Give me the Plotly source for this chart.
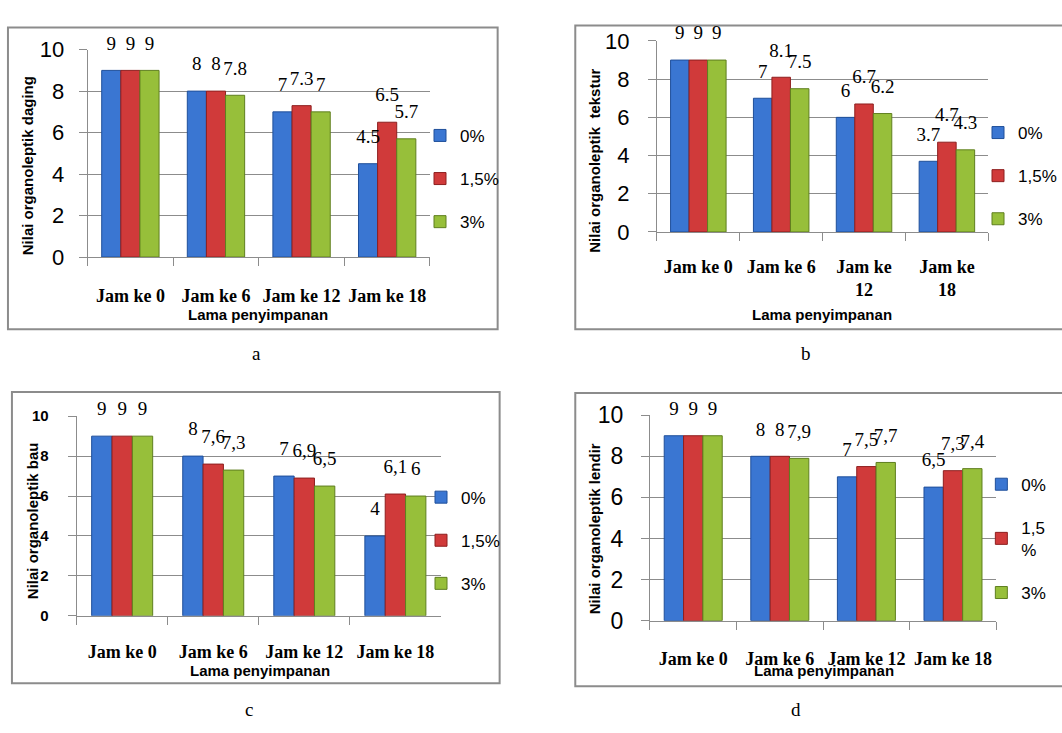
import plotly.graph_objects as go

# ---------------- data ----------------
categories = ["Jam ke 0", "Jam ke 6", "Jam ke 12", "Jam ke 18"]
tick_labels_wrapped = ["Jam ke 0", "Jam ke 6", "Jam ke<br>12", "Jam ke<br>18"]
series_names = ["0%", "1,5%", "3%"]

daging_0 = [9, 8, 7, 4.5]
daging_15 = [9, 8, 7.3, 6.5]
daging_3 = [9, 7.8, 7, 5.7]

tekstur_0 = [9, 7, 6, 3.7]
tekstur_15 = [9, 8.1, 6.7, 4.7]
tekstur_3 = [9, 7.5, 6.2, 4.3]

bau_0 = [9, 8, 7, 4]
bau_15 = [9, 7.6, 6.9, 6.1]
bau_3 = [9, 7.3, 6.5, 6]

lendir_0 = [9, 8, 7, 6.5]
lendir_15 = [9, 8, 7.5, 7.3]
lendir_3 = [9, 7.9, 7.7, 7.4]

y_titles = ["Nilai organoleptik daging", "Nilai organoleptik  tekstur",
            "Nilai organoleptik bau", "Nilai organoleptik lendir"]
x_title = "Lama penyimpanan"
panel_letters = ["a", "b", "c", "d"]

# ---------------- style ----------------
colors = ["#3a76d2", "#d03a3a", "#97bf3a"]
edge = ["#1f4f9a", "#8e1f1f", "#5f7f1f"]
grid = "#8c8c8c"
SANS = "Liberation Sans, Arial, sans-serif"
SERIF = "Liberation Serif, Times New Roman, serif"

W, H = 1062, 733


def px_x(v):
    return v / W


def px_y(v):
    return 1 - v / H


panels = [
    dict(data=[daging_0, daging_15, daging_3], sep=".", ticks=categories,
         xd=(88, 432), yd=(38, 253), box=(8, 15, 500, 328),
         ytick=dict(size=22, family=SANS), ystand=10, leg=(422, 172), lab=(258, 353),
         xstand=22, ytitle=(28, 158), xtitle=(259, 313)),
    dict(data=[tekstur_0, tekstur_15, tekstur_3], sep=".", ticks=tick_labels_wrapped,
         xd=(660, 993), yd=(29, 227), box=(578, 13, 1075, 328),
         ytick=dict(size=22, family=SANS), ystand=14, leg=(983, 169), lab=(810, 353),
         xstand=18, ytitle=(597, 153), xtitle=(826, 313)),
    dict(data=[bau_0, bau_15, bau_3], sep=",", ticks=categories,
         xd=(77, 443), yd=(418, 625), box=(12, 393, 502, 695),
         ytick=dict(size=15, family=SANS, weight="bold"), ystand=16, leg=(423, 547), lab=(250, 722),
         xstand=20, ytitle=(32, 526), xtitle=(261, 682)),
    dict(data=[lendir_0, lendir_15, lendir_3], sep=",", ticks=categories,
         xd=(653, 1001), yd=(417, 630), box=(578, 394, 1075, 698),
         ytick=dict(size=23, family=SANS), ystand=13, leg=(986, 545), lab=(800, 722),
         xstand=22, ytitle=(597, 535), xtitle=(828, 682)),
]


def fmt(v, sep):
    return f"{v:g}".replace(".", sep)


fig = go.Figure()
shapes = []
annotations = []
layout = dict(width=W, height=H, margin=dict(l=0, r=0, t=0, b=0),
              paper_bgcolor="white", plot_bgcolor="white",
              barmode="group", bargap=0.33, bargroupgap=0,
              scattermode="group", scattergap=0.33, showlegend=True)

title_font = dict(family=SANS, size=15, color="black", weight="bold")

for i, p in enumerate(panels):
    n = i + 1
    xa = "x" if n == 1 else f"x{n}"
    ya = "y" if n == 1 else f"y{n}"
    legname = "legend" if n == 1 else f"legend{n}"
    names = list(series_names)
    if n == 4:
        names[1] = "1,5<br>%"
    for s in range(3):
        vals = p["data"][s]
        fig.add_trace(go.Bar(
            x=categories, y=vals, name=names[s], xaxis=xa, yaxis=ya,
            marker=dict(color=colors[s], line=dict(color=edge[s], width=1)),
            offsetgroup=str(s), legend=legname, legendgroup=f"{n}-{s}",
            hoverinfo="x+y"))
        fig.add_trace(go.Scatter(
            x=categories, y=vals, mode="markers+text", xaxis=xa, yaxis=ya,
            text=[fmt(v, p["sep"]) for v in vals], textposition="top center",
            textfont=dict(family=SERIF, size=19, color="black"),
            marker=dict(size=24, opacity=0), cliponaxis=False,
            offsetgroup=str(s), showlegend=False, legend=legname, hoverinfo="skip"))

    ax_x = dict(domain=[px_x(p["xd"][0]), px_x(p["xd"][1])], anchor=ya,
                type="category", categoryorder="array", categoryarray=categories,
                tickvals=categories, ticktext=p["ticks"], tickangle=0,
                showline=True, linecolor=grid, linewidth=1,
                ticks="outside", tickson="boundaries", ticklen=8, tickcolor=grid,
                tickfont=dict(family=SERIF, size=18, color="black", weight="bold"),
                ticklabelstandoff=p["xstand"],
                showgrid=False, zeroline=False, fixedrange=True)
    ax_y = dict(domain=[px_y(p["yd"][1]), px_y(p["yd"][0])], anchor=xa,
                range=[0, 10], tickvals=[0, 2, 4, 6, 8, 10],
                showline=True, linecolor=grid, linewidth=1,
                ticks="outside", ticklen=8, tickcolor=grid,
                ticklabelstandoff=p["ystand"],
                showgrid=True, gridcolor=grid, gridwidth=1, zeroline=False,
                tickfont=dict(color="black", **p["ytick"]),
                fixedrange=True)
    layout["xaxis" if n == 1 else f"xaxis{n}"] = ax_x
    layout["yaxis" if n == 1 else f"yaxis{n}"] = ax_y
    layout[legname] = dict(x=px_x(p["leg"][0]), y=px_y(p["leg"][1]),
                           xanchor="left", yanchor="middle",
                           font=dict(family=SANS, size=17, color="black"),
                           tracegroupgap=18, bgcolor="rgba(0,0,0,0)",
                           itemwidth=30)
    bx = p["box"]
    shapes.append(dict(type="rect", xref="paper", yref="paper",
                       x0=px_x(bx[0]), x1=px_x(bx[2]), y0=px_y(bx[3]), y1=px_y(bx[1]),
                       line=dict(color="#8c8c8c", width=2), layer="below"))
    # axis titles
    annotations.append(dict(text=y_titles[i], xref="paper", yref="paper",
                            x=px_x(p["ytitle"][0]), y=px_y(p["ytitle"][1]),
                            textangle=-90, showarrow=False,
                            xanchor="center", yanchor="middle", font=title_font))
    annotations.append(dict(text=x_title, xref="paper", yref="paper",
                            x=px_x(p["xtitle"][0]), y=px_y(p["xtitle"][1]),
                            showarrow=False, xanchor="center", yanchor="middle",
                            font=title_font))
    annotations.append(dict(text=panel_letters[i], xref="paper", yref="paper",
                            x=px_x(p["lab"][0]), y=px_y(p["lab"][1]), showarrow=False,
                            xanchor="center", yanchor="middle",
                            font=dict(family=SERIF, size=19, color="black")))

layout["shapes"] = shapes
layout["annotations"] = annotations
fig.update_layout(**layout)
fig.write_html("out.html", config={"displayModeBar": False},
               post_script="document.body.style.margin='0';")
